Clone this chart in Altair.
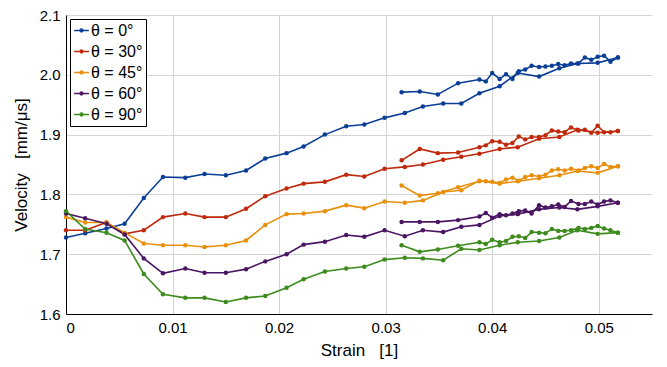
import altair as alt
import pandas as pd

series_labels = ["θ = 0°", "θ = 30°", "θ = 45°", "θ = 60°", "θ = 90°"]
colors = ["#0b3f96", "#c0290c", "#e8900c", "#4a1562", "#3c8b1c"]

# loading branch strains
xa = [0.0000, 0.0018, 0.0038, 0.0055, 0.0073, 0.0091, 0.0112, 0.0130, 0.0150, 0.0169,
      0.0187, 0.0207, 0.0223, 0.0243, 0.0263, 0.0280, 0.0299, 0.0318, 0.0335, 0.0354,
      0.0371, 0.0388, 0.0407, 0.0424, 0.0444, 0.0463, 0.0480, 0.0499, 0.0518]
# second branch strains
xb = [0.0315, 0.0332, 0.0349, 0.0368, 0.0388, 0.0394, 0.0400, 0.0407, 0.0413, 0.0419,
      0.0425, 0.0431, 0.0437, 0.0444, 0.0450, 0.0456, 0.0462, 0.0468, 0.0474, 0.0481,
      0.0487, 0.0493, 0.0499, 0.0505, 0.0511, 0.0518]

a0 = [1.728, 1.735, 1.743, 1.751, 1.794, 1.829, 1.828, 1.834, 1.832, 1.840, 1.860, 1.869,
      1.880, 1.900, 1.914, 1.917, 1.928, 1.936, 1.947, 1.952, 1.952, 1.969, 1.981, 2.003,
      1.997, 2.011, 2.019, 2.020, 2.029]
b0 = [1.971, 1.972, 1.967, 1.986, 1.992, 1.989, 2.003, 1.993, 2.001, 1.993, 2.006, 2.009,
      2.015, 2.013, 2.014, 2.015, 2.018, 2.016, 2.019, 2.019, 2.029, 2.025, 2.030, 2.032,
      2.022, 2.029]

a30 = [1.740, 1.740, 1.753, 1.734, 1.740, 1.762, 1.768, 1.762, 1.762, 1.776, 1.797, 1.810,
       1.818, 1.821, 1.833, 1.830, 1.843, 1.846, 1.850, 1.858, 1.863, 1.868, 1.876, 1.879,
       1.893, 1.896, 1.908, 1.903, 1.906]
b30 = [1.857, 1.876, 1.869, 1.870, 1.879, 1.882, 1.889, 1.888, 1.883, 1.886, 1.897, 1.892,
       1.896, 1.896, 1.899, 1.907, 1.905, 1.904, 1.912, 1.907, 1.908, 1.903, 1.915, 1.904,
       1.904, 1.906]

a45 = [1.762, 1.753, 1.753, 1.736, 1.718, 1.715, 1.715, 1.712, 1.715, 1.723, 1.749, 1.767,
       1.768, 1.772, 1.782, 1.777, 1.788, 1.786, 1.790, 1.804, 1.807, 1.823, 1.818, 1.822,
       1.827, 1.832, 1.839, 1.836, 1.847]
b45 = [1.815, 1.798, 1.802, 1.812, 1.822, 1.822, 1.821, 1.819, 1.825, 1.828, 1.823, 1.829,
       1.832, 1.830, 1.833, 1.840, 1.842, 1.840, 1.843, 1.840, 1.844, 1.847, 1.844, 1.851,
       1.846, 1.847]

a60 = [1.768, 1.760, 1.751, 1.733, 1.693, 1.668, 1.676, 1.669, 1.669, 1.675, 1.688, 1.700,
       1.716, 1.721, 1.732, 1.729, 1.740, 1.730, 1.740, 1.737, 1.746, 1.749, 1.764, 1.767,
       1.775, 1.778, 1.775, 1.780, 1.786]
b60 = [1.754, 1.754, 1.754, 1.757, 1.763, 1.769, 1.761, 1.767, 1.765, 1.768, 1.772, 1.773,
       1.768, 1.782, 1.778, 1.780, 1.783, 1.779, 1.789, 1.784, 1.784, 1.788, 1.783, 1.788,
       1.790, 1.786]

a90 = [1.772, 1.742, 1.736, 1.723, 1.667, 1.633, 1.627, 1.627, 1.620, 1.627, 1.630, 1.644,
       1.658, 1.671, 1.676, 1.679, 1.691, 1.694, 1.693, 1.690, 1.709, 1.707, 1.715, 1.720,
       1.722, 1.728, 1.740, 1.734, 1.736]
b90 = [1.715, 1.704, 1.708, 1.714, 1.720, 1.717, 1.724, 1.720, 1.722, 1.729, 1.730, 1.727,
       1.737, 1.736, 1.735, 1.742, 1.739, 1.739, 1.740, 1.744, 1.742, 1.744, 1.747, 1.743,
       1.740, 1.736]

branches_a = [a0, a30, a45, a60, a90]
branches_b = [b0, b30, b45, b60, b90]

rows = []
for lab, ya, yb in zip(series_labels, branches_a, branches_b):
    for i, (x, y) in enumerate(zip(xa, ya)):
        rows.append({"strain": x, "velocity": y, "series": lab, "branch": lab + "A", "idx": i})
    for i, (x, y) in enumerate(zip(xb, yb)):
        rows.append({"strain": x, "velocity": y, "series": lab, "branch": lab + "B", "idx": i})
df = pd.DataFrame(rows)

legend_path = ("M-1,0L1,0M-0.18,0a0.18,0.18 0 1,0 0.36,0a0.18,0.18 0 1,0 -0.36,0")

NB = "\u00a0"

chart = alt.Chart(df).mark_line(
    strokeWidth=1.6,
    point=alt.OverlayMarkDef(filled=True, size=20),
).encode(
    x=alt.X("strain:Q", scale=alt.Scale(domain=[0, 0.055], nice=False, zero=False),
            axis=alt.Axis(title="Strain" + NB * 3 + "[1]", values=[0, 0.01, 0.02, 0.03, 0.04, 0.05],
                          labelExpr="datum.value == 0 ? '0' : format(datum.value, '.2f')")),
    y=alt.Y("velocity:Q", scale=alt.Scale(domain=[1.6, 2.1], nice=False, zero=False),
            axis=alt.Axis(title="Velocity" + NB * 3 + "[mm/μs]", values=[1.6, 1.7, 1.8, 1.9, 2.0, 2.1],
                          format=".1f")),
    color=alt.Color("series:N", scale=alt.Scale(domain=series_labels, range=colors),
                    sort=series_labels,
                    legend=alt.Legend(title=None, orient="none", legendX=4, legendY=4,
                                      symbolType=legend_path, symbolSize=220,
                                      symbolStrokeWidth=1.6, labelFontSize=16,
                                      labelFont="Liberation Sans", labelColor="black",
                                      strokeColor="black", fillColor="white",
                                      padding=3, rowPadding=4, labelOffset=1,
                                      cornerRadius=0)),
    detail="branch:N",
    order="idx:Q",
).properties(
    width=586, height=299,
    autosize=alt.AutoSizeParams(type="none"),
    padding={"left": 58, "top": 7, "right": 7, "bottom": 45},
).configure_view(
    stroke=None
).configure_axis(
    domainColor="black", domainWidth=1, gridColor="#d4d4d4", gridWidth=1,
    ticks=False, labelFont="Liberation Sans", labelFontSize=15, labelColor="black",
    titleFont="Liberation Sans", titleFontSize=17, titleFontWeight="normal",
    titleColor="black", labelPadding=6,
).configure_axisX(
    titlePadding=7, domain=True
).configure_axisY(
    titlePadding=9
)

chart.save("out.html", embed_options={"renderer": "svg", "actions": False})
